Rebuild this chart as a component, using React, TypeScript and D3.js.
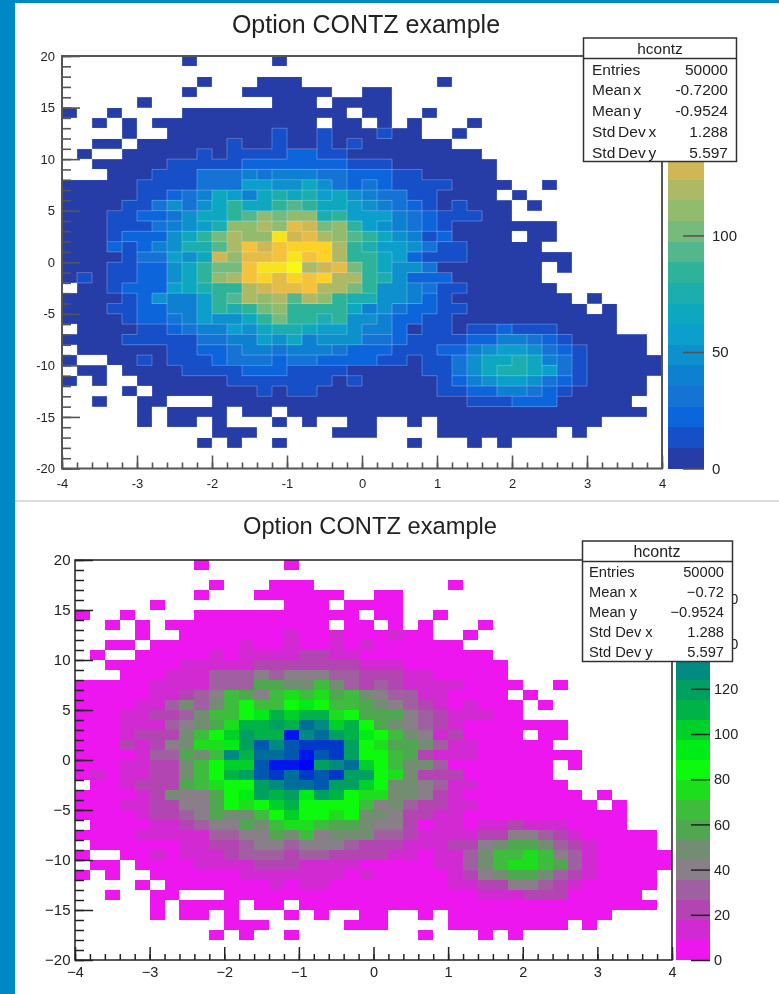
import * as d3 from "d3"
import { useEffect, useRef } from "react"

// one string per y bin (top row first), one char per x bin: "." empty, else contour band 0-j
const bandRows = [
  "........0.....0.........................",
  "........................................",
  ".........0...000.........0..............",
  "........0...000000..00..................",
  ".....0........000.0000..................",
  "0..0....00000000000.00..0...............",
  "..0.0.00000000000.00.0.0...0............",
  "....0..00000001001000100..0.............",
  "..00.000000100100101000000..............",
  ".0..0000010111122110" + "00000000.." + "..........",
  "..00000111" + "1122222221" + "110000000." + "..........",
  "...0001113" + "3343444332" + "221100000." + "..........",
  "0000011113" + "3366557532" + "3211110000" + "..0.......",
  "0000011234" + "7647878675" + "433110000." + "0.........",
  "0000113535" + "79779a9776" + "5432101000" + ".0........",
  "0001122357" + "79acbcc896" + "6643211100" + "..........",
  "0001113456" + "8ccdcfebc9" + "6543210000" + "000.......",
  "0001222579" + "bdcciefdca" + "9754120000" + ".00.......",
  "0002124588" + "adgeghhhd9" + "8665311000" + "00........",
  "0000133657" + "ecffgighd9" + "9762111000" + "0000......",
  "0001122579" + "bbgiijdefb" + "9755300000" + "00.0......",
  "0101122579" + "cdghfhghdd" + "9852220000" + "00........",
  ".001222678" + "99deffgddb" + "9554311000" + "000.......",
  "0000125446" + "9adcdadc98" + "8554210000" + "0000.0....",
  "0001122446" + "989bc99997" + "4532211000" + "00000.0...",
  "0000122346" + "5579b99895" + "5422110000" + "0000000...",
  ".000011234" + "4657887665" + "4420110112" + "1110000...",
  "0000111113" + "3446574555" + "3321111224" + "432100000.",
  ".000000112" + "2344344432" + "2211122456" + "653210000.",
  "0..0010111" + "2333233222" + "2110113577" + "8743100000",
  ".00.000011" + "1122211110" + "0000113578" + "8763100000",
  "0.0..00000" + "0111111101" + "0000012456" + "653210000.",
  "....0.0000" + "0001011000" + "0000011224" + "432100000.",
  "..0..00..." + "0000000000" + "0000000111" + "22200000..",
  ".....0.000" + "0.00.00000" + "0000000000" + "000000000.",
  ".....0.00." + "0...0.0..0" + "0..0.00000" + "000000....",
  ".........." + "000.....00" + "0....00000" + "000.0.....",
  ".........0" + ".0..0....." + "...0...0.0" + "..........",
  "........................................",
  "........................................",
]

const zMax = 177
const xLabels = [-4, -3, -2, -1, 0, 1, 2, 3, 4]
const yLabels = [-20, -15, -10, -5, 0, 5, 10, 15, 20]
const xMinor = d3.range(-40, 41, 2).map((d) => d / 10)
const yMinor = d3.range(-20, 21)

const birdColours = [
  "#263ca8", "#1650c8", "#1165dc", "#1273d6", "#1080d2",
  "#0a90cc", "#0a9fcc", "#0aa8c0", "#1aadae", "#2fb39b",
  "#52b78d", "#77ba7e", "#93bb6e", "#aeb965", "#cfb755",
  "#e6bc48", "#f5c33a", "#fdd228", "#f8e41c", "#f8fa0e",
]
const mixColours = [
  "#ee14ee", "#d22bd2", "#b344b3", "#a05fa0", "#887f88",
  "#728d72", "#50a850", "#3cbc3c", "#1ede1e", "#08fa08",
  "#00ec14", "#00d02a", "#00b348", "#00a060", "#008a80",
  "#006e9a", "#0058b0", "#0038c8", "#0018ec", "#0000ff",
]

const statLabels = ["Entries", "Mean x", "Mean y", "Std Dev x", "Std Dev y"]
const topStats = ["50000", "-0.7200", "-0.9524", "1.288", "5.597"]
const bottomStats = ["50000", "\u22120.72", "\u22120.9524", "1.288", "5.597"]
const topZTicks = [0, 50, 100]
const bottomZTicks = [0, 20, 40, 60, 80, 100, 120, 140, 160]

const bandWidth = zMax / 20
const counts = bandRows.map((row) =>
  row.split("").map((c) => (c === "." ? null : (parseInt(c, 20) + 0.5) * bandWidth))
)

const font = "'Liberation Sans', Arial, sans-serif"

const topPanel = {
  left: 62, right: 662, top: 56, bottom: 468.5,
  colours: birdColours, contour: true, minus: "-",
  frame: "#555", frameWidth: 2, tickWidth: 1.6, text: "#222",
  title: { x: 366, y: 33, size: 25 },
  xFont: 13, xPad: 10, yFont: 13, yPad: 7,
  xMajor: 13, xMinorLen: 6, yMajor: 18, yMinorLen: 9,
  bar: { left: 668, right: 704, tick: 21, font: 15, pad: 8, ticks: topZTicks },
  stats: {
    x0: 583.5, x1: 736.5, y0: 38, y1: 161.5, head: 58.5, headY: 48.5, headX: 660,
    headFont: 15.4, font: 15.5, textL: 592, textR: 728, first: 69.3, step: 20.7,
    values: topStats, wordSpacing: -1.5,
  },
}

const bottomPanel = {
  left: 75, right: 672, top: 560, bottom: 960,
  colours: mixColours, contour: false, minus: "\u2212",
  frame: "#222", frameWidth: 1.5, tickWidth: 1.5, text: "#222",
  title: { x: 370, y: 534, size: 23.7 },
  xFont: 14.5, xPad: 7, yFont: 15, yPad: 4.5,
  xMajor: 13, xMinorLen: 6, yMajor: 18, yMinorLen: 9,
  bar: { left: 676, right: 710, tick: 19, font: 14.5, pad: 4, ticks: bottomZTicks },
  stats: {
    x0: 582.5, x1: 732.5, y0: 541, y1: 661.5, head: 561.5, headY: 551.5, headX: 657,
    headFont: 16, font: 14.7, textL: 589, textR: 724, first: 571.7, step: 20,
    values: bottomStats, wordSpacing: 0,
  },
}

const drawPanel = (svg, p) => {
  const g = svg
    .append("g")
    .attr("font-family", font)
    .attr("fill", p.text)
    .attr("filter", "url(#soft)")

  const x = d3.scaleLinear().domain([-4, 4]).range([p.left, p.right])
  const y = d3.scaleLinear().domain([-20, 20]).range([p.bottom, p.top])
  const z = d3.scaleLinear().domain([0, zMax]).range([p.bottom, p.top])
  const colour = d3.scaleQuantize().domain([0, zMax]).range(p.colours)

  g.append("text")
    .attr("x", p.title.x)
    .attr("y", p.title.y)
    .attr("text-anchor", "middle")
    .attr("font-size", p.title.size)
    .text("Option CONTZ example")

  const binX = (i) => x(-4 + i * 0.2)
  const binY = (r) => y(20 - r)

  const cells = counts.flatMap((row, r) =>
    row.map((value, i) => ({ value, i, r })).filter((d) => d.value !== null)
  )

  g.append("g")
    .attr("shape-rendering", "crispEdges")
    .selectAll("rect")
    .data(cells)
    .enter()
    .append("rect")
    .attr("x", (d) => binX(d.i))
    .attr("y", (d) => binY(d.r))
    .attr("width", (d) => binX(d.i + 1) - binX(d.i))
    .attr("height", (d) => binY(d.r + 1) - binY(d.r))
    .attr("fill", (d) => colour(d.value))

  // the contour option outlines every step between two bands
  if (p.contour) {
    const path = d3.path()
    const at = (r, i) => (counts[r] && counts[r][i] != null ? counts[r][i] : -1)
    for (let r = -1; r < 40; r++) {
      for (let i = -1; i < 40; i++) {
        if (at(r, i) !== at(r, i + 1) && r >= 0) {
          path.moveTo(binX(i + 1), binY(r))
          path.lineTo(binX(i + 1), binY(r + 1))
        }
        if (at(r, i) !== at(r + 1, i) && i >= 0) {
          path.moveTo(binX(i), binY(r + 1))
          path.lineTo(binX(i + 1), binY(r + 1))
        }
      }
    }
    g.append("path")
      .attr("d", path.toString())
      .attr("fill", "none")
      .attr("stroke", "#dfeeff")
      .attr("stroke-opacity", 0.28)
      .attr("stroke-width", 1)
  }

  g.append("rect")
    .attr("x", p.left)
    .attr("y", p.top)
    .attr("width", p.right - p.left)
    .attr("height", p.bottom - p.top)
    .attr("fill", "none")
    .attr("stroke", p.frame)
    .attr("stroke-width", p.frameWidth)

  const label = (d) => String(d).replace("-", p.minus)

  const addAxis = (axis, fontSize, translate) => {
    const a = g.append("g").attr("transform", translate).call(axis)
    // the axis sets its own font on the group, so override it after the call
    a.attr("font-size", fontSize).attr("font-family", font)
    a.select(".domain").remove()
    a.selectAll("line").attr("stroke", p.frame).attr("stroke-width", p.tickWidth)
    a.selectAll("text").attr("fill", p.text)
  }

  addAxis(
    d3.axisBottom(x).tickValues(xMinor).tickSize(-p.xMinorLen).tickFormat(""),
    p.xFont,
    `translate(0,${p.bottom})`
  )
  addAxis(
    d3.axisBottom(x).tickValues(xLabels).tickSize(-p.xMajor).tickPadding(p.xPad).tickFormat(label),
    p.xFont,
    `translate(0,${p.bottom})`
  )
  addAxis(
    d3.axisLeft(y).tickValues(yMinor).tickSize(-p.yMinorLen).tickFormat(""),
    p.yFont,
    `translate(${p.left},0)`
  )
  addAxis(
    d3.axisLeft(y).tickValues(yLabels).tickSize(-p.yMajor).tickPadding(p.yPad).tickFormat(label),
    p.yFont,
    `translate(${p.left},0)`
  )

  // palette bar
  g.append("g")
    .attr("shape-rendering", "crispEdges")
    .selectAll("rect")
    .data(p.colours)
    .enter()
    .append("rect")
    .attr("x", p.bar.left)
    .attr("width", p.bar.right - p.bar.left)
    .attr("y", (d) => z(colour.invertExtent(d)[1]))
    .attr("height", (d) => z(colour.invertExtent(d)[0]) - z(colour.invertExtent(d)[1]))
    .attr("fill", (d) => d)

  addAxis(
    d3.axisRight(z).tickValues(p.bar.ticks).tickSize(-p.bar.tick).tickPadding(p.bar.pad).tickFormat(String),
    p.bar.font,
    `translate(${p.bar.right},0)`
  )

  // stats box goes on top of the bar and its labels
  const s = p.stats
  const box = g.append("g")
  box
    .append("rect")
    .attr("x", s.x0)
    .attr("y", s.y0)
    .attr("width", s.x1 - s.x0)
    .attr("height", s.y1 - s.y0)
    .attr("fill", "#fff")
    .attr("stroke", "#333")
    .attr("stroke-width", 1.5)
  box
    .append("line")
    .attr("x1", s.x0)
    .attr("x2", s.x1)
    .attr("y1", s.head)
    .attr("y2", s.head)
    .attr("stroke", "#333")
    .attr("stroke-width", 1.5)
  box
    .append("text")
    .attr("x", s.headX)
    .attr("y", s.headY)
    .attr("dy", "0.35em")
    .attr("text-anchor", "middle")
    .attr("font-size", s.headFont)
    .text("hcontz")

  statLabels.forEach((name, k) => {
    const rowY = s.first + k * s.step
    box
      .append("text")
      .attr("x", s.textL)
      .attr("y", rowY)
      .attr("dy", "0.35em")
      .attr("font-size", s.font)
      .attr("word-spacing", s.wordSpacing)
      .text(name)
    box
      .append("text")
      .attr("x", s.textR)
      .attr("y", rowY)
      .attr("dy", "0.35em")
      .attr("text-anchor", "end")
      .attr("font-size", s.font)
      .text(s.values[k])
  })
}

const App = () => {
  const ref = useRef(null)

  useEffect(() => {
    const svg = d3.select(ref.current)
    svg.selectAll("*").remove()

    svg
      .append("defs")
      .append("filter")
      .attr("id", "soft")
      .attr("filterUnits", "userSpaceOnUse")
      .attr("x", 0)
      .attr("y", 0)
      .attr("width", 779)
      .attr("height", 994)
      .append("feGaussianBlur")
      .attr("stdDeviation", 0.4)

    svg.append("rect").attr("width", 779).attr("height", 994).attr("fill", "#0088c6")
    svg.append("rect").attr("x", 15).attr("y", 3).attr("width", 764).attr("height", 991).attr("fill", "#fff")
    svg.append("rect").attr("x", 15).attr("y", 500).attr("width", 764).attr("height", 2).attr("fill", "#dcdcdc")

    drawPanel(svg, topPanel)
    drawPanel(svg, bottomPanel)
  }, [])

  return (
    <svg
      ref={ref}
      width={779}
      height={994}
      style={{ position: "absolute", left: 0, top: 0, display: "block" }}
    />
  )
}

export default App
